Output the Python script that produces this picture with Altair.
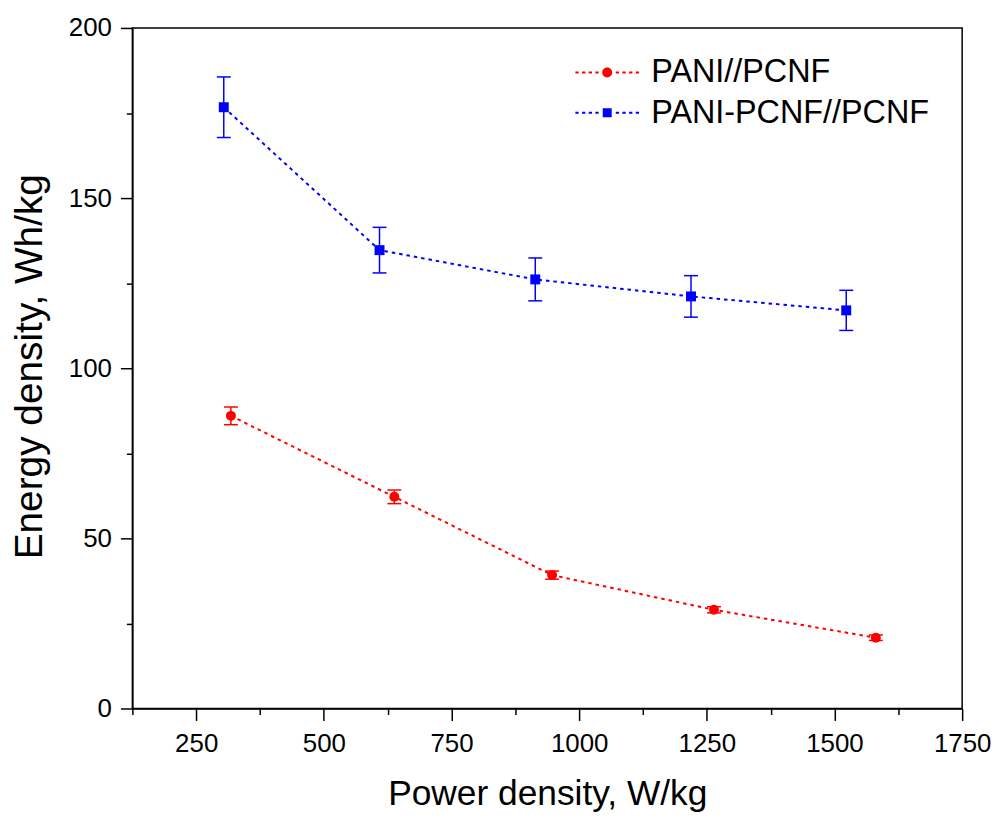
import altair as alt
import pandas as pd

FONT = "Liberation Sans, Arial, sans-serif"

series_names = ["PANI//PCNF", "PANI-PCNF//PCNF"]
series_colors = ["#ff0000", "#0000ff"]

power_red = [318, 638, 947, 1264, 1581]
energy_red = [86.0, 62.2, 39.2, 29.0, 20.8]
err_red = [2.6, 2.0, 1.2, 0.9, 0.8]

power_blue = [304, 609, 914, 1219, 1523]
energy_blue = [176.7, 134.7, 126.1, 121.1, 117.0]
err_blue = [8.9, 6.7, 6.3, 6.1, 5.9]

x_major = [250, 500, 750, 1000, 1250, 1500, 1750]
x_minor = [125, 375, 625, 875, 1125, 1375, 1625]
y_major = [0, 50, 100, 150, 200]
y_minor = [25, 75, 125, 175]

rows = []
for name, col, px, ey, er in [(series_names[0], series_colors[0], power_red, energy_red, err_red),
                              (series_names[1], series_colors[1], power_blue, energy_blue, err_blue)]:
    for p, e, d in zip(px, ey, er):
        rows.append({"series": name, "col": col, "power": p, "energy": e,
                     "lo": e - d, "hi": e + d})
df = pd.DataFrame(rows)


# ---- legend symbols: dotted line with marker in the middle (unit = 10 px) ----
def dash_path(start, stop, dash, period, half):
    parts = []
    x = start
    while x + dash <= stop + 1e-9:
        parts.append(f"M{x:.3f},{-half:.3f}H{x + dash:.3f}V{half:.3f}H{x:.3f}Z")
        parts.append(f"M{-x - dash:.3f},{-half:.3f}H{-x:.3f}V{half:.3f}H{-x - dash:.3f}Z")
        x += period
    return "".join(parts)


dashes = dash_path(-3.2, -0.75, 0.33, 0.67, 0.1)
r = 0.5
circle_path = dashes + f"M{-r},0A{r},{r} 0 1 0 {r},0A{r},{r} 0 1 0 {-r},0Z"
s = 0.45
square_path = dashes + f"M{-s},{-s}H{s}V{s}H{-s}Z"

cscale = alt.Scale(domain=series_names, range=series_colors)
xscale = alt.Scale(domain=[125, 1750], nice=False, zero=False)
yscale = alt.Scale(domain=[0, 200], nice=False)

common_axis = dict(grid=False, domainColor="black", domainWidth=1.5, tickColor="black",
                   tickWidth=1.5, labelColor="black", labelFont=FONT, titleFont=FONT,
                   titleColor="black", titleFontWeight="normal", labelFlush=False,
                   format="d")

x_axis_major = alt.Axis(values=x_major, orient="bottom", tickSize=12, labelFontSize=26,
                        labelPadding=10, title="Power density, W/kg", titleFontSize=35.5,
                        titleY=97, titleBaseline="alphabetic", **common_axis)
y_axis_major = alt.Axis(values=y_major, orient="left", tickSize=12, labelFontSize=26,
                        labelPadding=9, title="Energy density, Wh/kg", titleFontSize=39,
                        titleAngle=270, titleX=-103, titleY=340, titleAlign="center",
                        titleBaseline="middle", **common_axis)
x_axis_minor = alt.Axis(values=x_minor, orient="bottom", tickSize=6, labels=False,
                        domain=False, title=None, grid=False, tickColor="black", tickWidth=1.5)
y_axis_minor = alt.Axis(values=y_minor, orient="left", tickSize=6, labels=False,
                        domain=False, title=None, grid=False, tickColor="black", tickWidth=1.5)

base = alt.Chart(df)
lit_color = alt.Color("col:N", scale=None)

line = base.mark_line(strokeDash=[3.5, 4], strokeWidth=2).encode(
    x=alt.X("power:Q", scale=xscale, axis=x_axis_major),
    y=alt.Y("energy:Q", scale=yscale, axis=y_axis_major),
    color=lit_color,
    detail="series:N",
)

bars = base.mark_rule(strokeWidth=1.5).encode(
    x=alt.X("power:Q", axis=x_axis_minor),
    y=alt.Y("lo:Q", axis=y_axis_minor),
    y2="hi:Q",
    color=lit_color,
)

cap_lo = base.mark_rule(strokeWidth=1.5, xOffset=-7, x2Offset=7).encode(
    x=alt.X("power:Q", axis=None),
    x2="power:Q",
    y=alt.Y("lo:Q", axis=None),
    color=lit_color,
)

cap_hi = base.mark_rule(strokeWidth=1.5, xOffset=-7, x2Offset=7).encode(
    x=alt.X("power:Q", axis=None),
    x2="power:Q",
    y=alt.Y("hi:Q", axis=None),
    color=lit_color,
)

pts_red = base.transform_filter(alt.datum.series == series_names[0]).mark_point(
    filled=True, opacity=1, size=100, shape="circle", color=series_colors[0]
).encode(
    x=alt.X("power:Q", axis=None),
    y=alt.Y("energy:Q", axis=None),
)

pts_blue = base.transform_filter(alt.datum.series == series_names[1]).mark_point(
    filled=True, opacity=1, size=100, shape="square", color=series_colors[1]
).encode(
    x=alt.X("power:Q", axis=None),
    y=alt.Y("energy:Q", axis=None),
)

leg = alt.Legend(title=None, orient="none", legendX=461, legendY=28.5, labelFontSize=32.5,
                 labelFont=FONT, labelColor="black", symbolSize=400, symbolStrokeWidth=0,
                 symbolOpacity=1, labelOffset=28, rowPadding=7.5, padding=0, labelLimit=600)

legend_layer = base.transform_filter("false").mark_point(filled=True, opacity=1).encode(
    x=alt.X("power:Q", axis=None),
    y=alt.Y("energy:Q", axis=None),
    color=alt.Color("series:N", scale=cscale, legend=leg),
    shape=alt.Shape("series:N", scale=alt.Scale(domain=series_names,
                                                range=[circle_path, square_path]),
                    legend=leg),
)

chart = alt.layer(line, bars, cap_lo, cap_hi, pts_red, pts_blue, legend_layer).resolve_axis(
    x="independent", y="independent"
).properties(
    width=834, height=684,
    padding={"left": 125, "top": 18, "right": 30, "bottom": 104},
    autosize=alt.AutoSizeParams(type="none"),
).configure_view(
    stroke="black", strokeWidth=1.5
)

chart.save("out.html", embed_options={"renderer": "svg", "actions": False})
